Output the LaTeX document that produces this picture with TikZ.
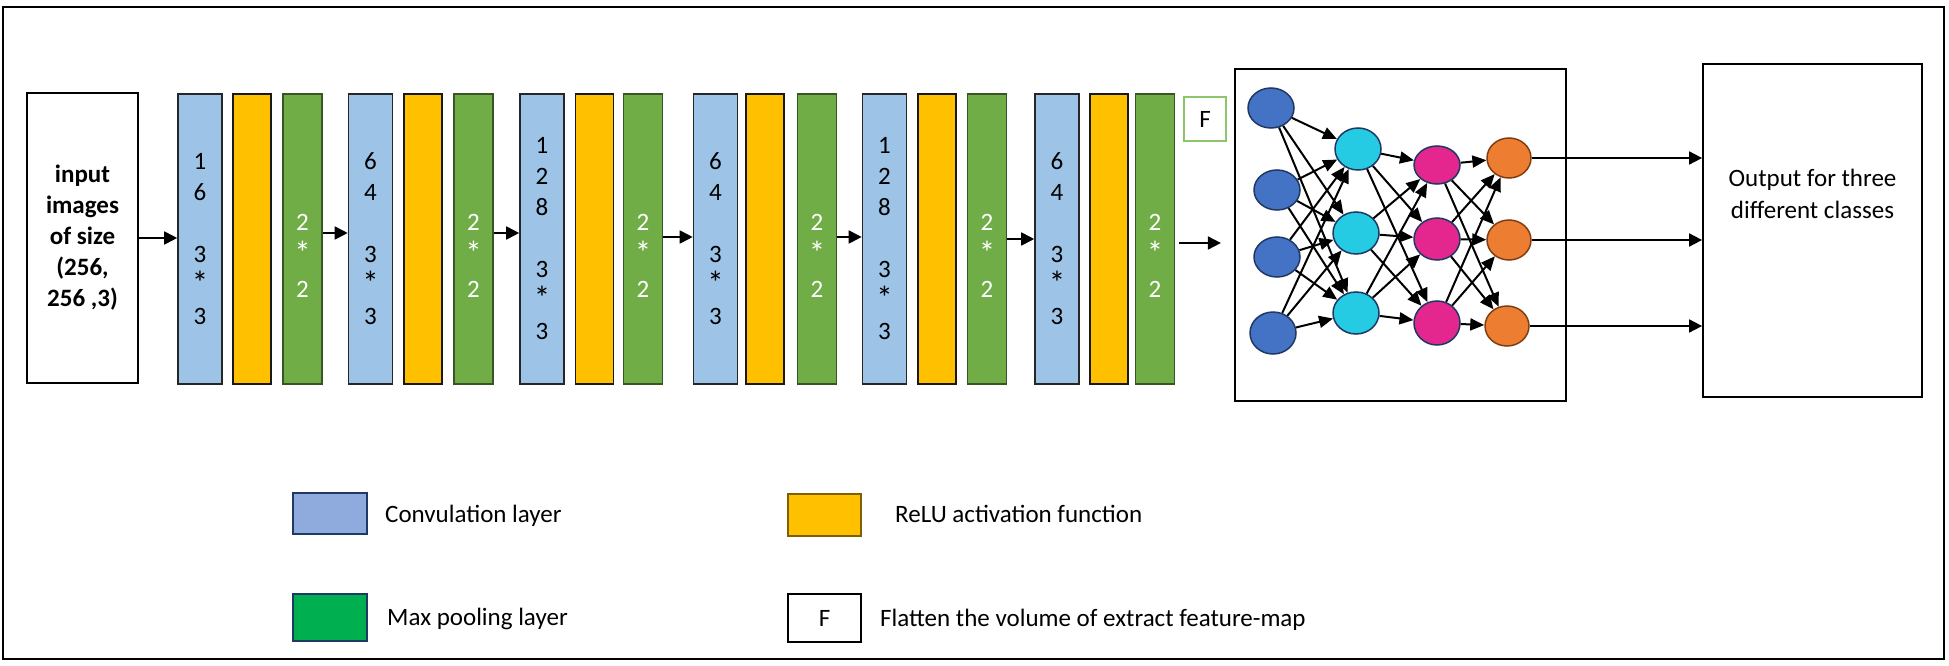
\documentclass[tikz,border=0pt]{standalone}
\usepackage{fontspec}
\setmainfont{Carlito}
\usetikzlibrary{arrows.meta,shapes.geometric}
\definecolor{convc}{HTML}{9DC3E6}
\definecolor{reluc}{HTML}{FFC000}
\definecolor{poolc}{HTML}{70AD47}
\definecolor{poolb}{HTML}{375623}
\definecolor{fbord}{HTML}{8CC66A}
\definecolor{navy}{HTML}{203864}
\definecolor{nblue}{HTML}{4472C4}
\definecolor{ncyan}{HTML}{24CBE3}
\definecolor{nmag}{HTML}{E3278F}
\definecolor{norange}{HTML}{ED7D31}
\definecolor{norb}{HTML}{7F3F14}
\definecolor{lconvc}{HTML}{8FAADC}
\definecolor{lpoolc}{HTML}{00B050}
\definecolor{lrelub}{HTML}{7F6000}
\newcommand{\bigast}{\raisebox{-1pt}{\fontsize{33}{31}\selectfont *}}
\begin{document}
\begin{tikzpicture}[x=1pt,y=-1pt,
  txt/.style={font=\fontsize{25}{31}\selectfont},
  box/.style={draw, line width=1.6pt, inner sep=0pt, minimum height=290pt, align=center, txt},
  conv/.style={box, fill=convc, draw=black!85, minimum width=44pt},
  relu/.style={box, fill=reluc, draw=black!90, minimum width=38pt},
  pool/.style={box, fill=poolc, draw=poolb, minimum width=39pt},
  pooltxt/.style={text=white, font=\fontsize{25}{33.5}\selectfont, align=center, inner sep=0pt},
  flow/.style={-{Triangle[length=13pt,width=13pt]}, line width=1.8pt},
  nnedge/.style={-{Triangle[length=14pt,width=12pt]}, line width=2pt},
  neuron/.style={ellipse, draw=navy, line width=1.5pt, inner sep=0pt, minimum width=46pt, minimum height=40pt},
  legbox/.style={draw=navy, line width=1.6pt, inner sep=0pt, minimum width=74pt},
  legtxt/.style={anchor=base west, inner sep=0pt, txt}
]
\useasboundingbox (0,0) rectangle (1949,666);
\draw[line width=2.5pt] (3,7) rectangle (1944,659);

% input
\node[box, minimum width=111pt, font=\bfseries\fontsize{25}{31}\selectfont] (inp) at (82.5,238) {input\\images\\of size\\(256,\\256 ,3)};

% conv / relu / pool
\node[conv] (c1) at (200,239) {1\\6\\[31pt]3\\\bigast\\3};
\node[relu] (r1) at (252,239) {};
\node[pool] (p1) at (302.5,239) {};
\node[conv] (c2) at (370.5,239) {6\\4\\[31pt]3\\\bigast\\3};
\node[relu] (r2) at (423,239) {};
\node[pool] (p2) at (473.5,239) {};
\node[conv] (c3) at (542,239) {1\\2\\8\\[31pt]3\\\bigast\\3};
\node[relu] (r3) at (594.5,239) {};
\node[pool] (p3) at (643,239) {};
\node[conv] (c4) at (715.5,239) {6\\4\\[31pt]3\\\bigast\\3};
\node[relu] (r4) at (765,239) {};
\node[pool] (p4) at (817,239) {};
\node[conv] (c5) at (884.5,239) {1\\2\\8\\[31pt]3\\\bigast\\3};
\node[relu] (r5) at (937,239) {};
\node[pool] (p5) at (987,239) {};
\node[conv] (c6) at (1057,239) {6\\4\\[31pt]3\\\bigast\\3};
\node[relu] (r6) at (1109,239) {};
\node[pool] (p6) at (1155,239) {};
\foreach \i/\x in {1/302.5,2/473.5,3/643,4/817,5/987,6/1155}
  \node[pooltxt] (pt\i) at (\x,255.5) {2\\\bigast\\2};

\node[draw=fbord, line width=1.6pt, minimum width=42pt, minimum height=44pt, inner sep=0pt, txt] (F) at (1205,119) {F};

% arrows between layers
\draw[flow] (inp.east) -- (inp.east -| c1.west);
\draw[flow] (p1.east |- 0,233) -- (c2.west |- 0,233);
\draw[flow] (p2.east |- 0,233) -- (c3.west |- 0,233);
\draw[flow] (p3.east |- 0,237) -- (c4.west |- 0,237);
\draw[flow] (p4.east |- 0,237) -- (c5.west |- 0,237);
\draw[flow] (p5.east |- 0,239) -- (c6.west |- 0,239);

% neural net box
\node[draw, line width=2.2pt, minimum width=331pt, minimum height=332pt, inner sep=0pt] (nn) at (1400.5,235) {};
\draw[flow, shorten <=4pt, shorten >=13pt] (p6.east |- 0,243) -- (nn.west |- 0,243);

\node[neuron, fill=nblue] (n1) at (1271,108) {};
\node[neuron, fill=nblue] (n2) at (1277,190) {};
\node[neuron, fill=nblue] (n3) at (1277,257) {};
\node[neuron, fill=nblue, minimum height=42pt] (n4) at (1273,333) {};
\node[neuron, fill=ncyan, minimum height=42pt] (h1) at (1358,149) {};
\node[neuron, fill=ncyan, minimum height=42pt] (h2) at (1356,233) {};
\node[neuron, fill=ncyan, minimum height=42pt] (h3) at (1356,313) {};
\node[neuron, fill=nmag, minimum height=38pt] (m1) at (1437,165) {};
\node[neuron, fill=nmag, minimum height=42pt] (m2) at (1437,239) {};
\node[neuron, fill=nmag, minimum height=44pt] (m3) at (1437,323) {};
\node[neuron, fill=norange, draw=norb, minimum width=44pt] (o1) at (1509,158) {};
\node[neuron, fill=norange, draw=norb, minimum width=44pt] (o2) at (1509,240) {};
\node[neuron, fill=norange, draw=norb, minimum width=44pt] (o3) at (1507,326) {};

\foreach \a in {n1,n2,n3,n4} \foreach \b in {h1,h2,h3} \draw[nnedge] (\a) -- (\b);
\foreach \a in {h1,h2,h3} \foreach \b in {m1,m2,m3} \draw[nnedge] (\a) -- (\b);
\foreach \a in {m1,m2,m3} \foreach \b in {o1,o2,o3} \draw[nnedge] (\a) -- (\b);

% output
\node[draw, line width=1.8pt, minimum width=219pt, minimum height=333pt, inner sep=0pt] (out) at (1812.5,230.5) {};
\node[anchor=north, align=center, inner sep=0pt, font=\fontsize{25}{32}\selectfont] (outtxt) at (1812.5,169) {Output for three\\different classes};
\foreach \o in {o1,o2,o3} \draw[flow] (\o.east) -- (\o.east -| out.west);

% legend
\node[legbox, fill=lconvc, minimum height=41pt] (lc) at (330,513.5) {};
\node[legtxt] (lct) at (385,522) {Convulation layer};
\node[legbox, fill=lpoolc, minimum height=47pt] (lp) at (330,617.5) {};
\node[legtxt] (lpt) at (387,625) {Max pooling layer};
\node[legbox, fill=reluc, draw=lrelub, minimum width=73pt, minimum height=42pt] (lr) at (824.5,515) {};
\node[legtxt] (lrt) at (895,522) {ReLU activation function};
\node[legbox, draw=black, minimum width=73pt, minimum height=48pt, txt] (lf) at (824.5,618) {F};
\node[legtxt] (lft) at (880,626) {Flatten the volume of extract feature-map};
\end{tikzpicture}
\end{document}
